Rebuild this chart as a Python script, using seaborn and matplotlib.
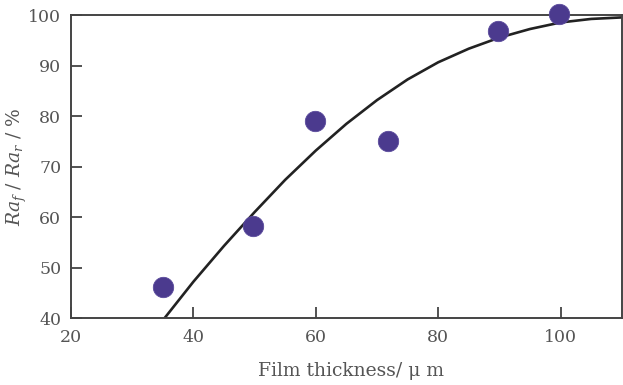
import matplotlib
matplotlib.use("Agg")
import matplotlib.pyplot as plt
import seaborn as sns
import pandas as pd

# measured roughness ratio vs. film thickness
thickness = [35.0, 49.7, 59.8, 71.8, 89.7, 99.8]
ratio = [46.1, 58.2, 79.1, 75.1, 96.9, 100.3]

# fitted trend curve
fit_x = [35.3, 40, 45, 50, 55, 60, 65, 70, 75, 80, 85, 90, 95, 100, 105, 110]
fit_y = [40.0, 47.2, 54.3, 61.0, 67.4, 73.2, 78.5, 83.2, 87.3, 90.7, 93.4, 95.6, 97.3, 98.6, 99.3, 99.6]

x_ticks = [20, 40, 60, 80, 100]
y_ticks = [40, 50, 60, 70, 80, 90, 100]

sns.set_theme(style="ticks")
plt.rcParams["font.family"] = ["DejaVu Serif"]
plt.rcParams["mathtext.fontset"] = "dejavuserif"

text_col = "#555555"
spine_col = "#444444"

fig = plt.figure(figsize=(6.23, 3.85), dpi=100)
ax = fig.add_axes([0.114, 0.174, 0.884, 0.786])

pts = pd.DataFrame({"thickness": thickness, "ratio": ratio})
fit = pd.DataFrame({"x": fit_x, "y": fit_y})

sns.lineplot(data=fit, x="x", y="y", ax=ax, color="#222222", linewidth=1.9,
             sort=True, zorder=2)
sns.scatterplot(data=pts, x="thickness", y="ratio", ax=ax, s=215,
                color="#4b3a8e", edgecolor="#5a4a9c", linewidth=0.6,
                zorder=4, clip_on=False)

ax.set_xlim(20, 110)
ax.set_ylim(40, 100)
ax.set_xticks(x_ticks)
ax.set_yticks(y_ticks)

for side in ["left", "bottom", "top", "right"]:
    ax.spines[side].set_color(spine_col)
    ax.spines[side].set_linewidth(1.4)

ax.tick_params(axis="both", direction="in", length=8, width=1.3,
               color=spine_col, labelcolor=text_col, labelsize=12.5)
ax.tick_params(axis="x", pad=8)
ax.tick_params(axis="y", pad=7)

ax.set_xlabel("Film thickness/ \u03bc m", fontsize=13.5, color=text_col)
ax.set_ylabel(r"$Ra_f$ / $Ra_r$ / %", fontsize=13.5, color=text_col)
ax.xaxis.set_label_coords(0.508, -0.146)
ax.yaxis.set_label_coords(-0.077, 0.5)

fig.savefig("out.png", dpi=100)
